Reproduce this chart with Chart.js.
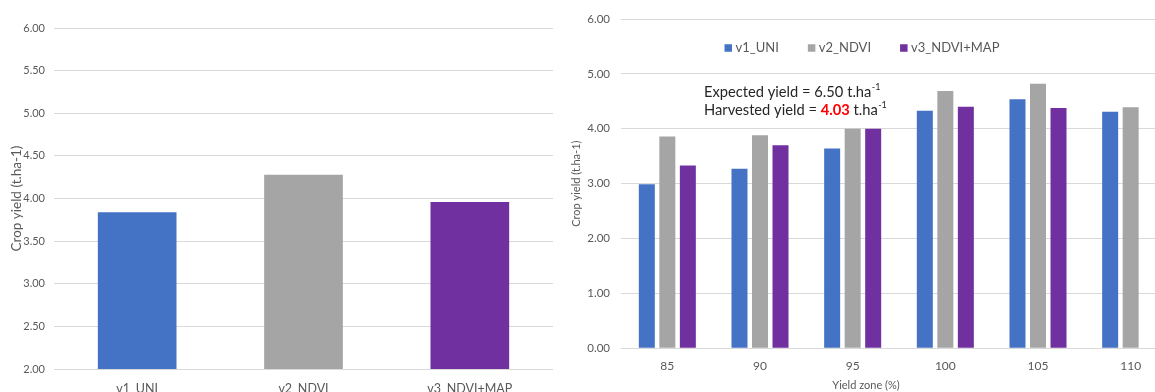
<!DOCTYPE html>
<html>
<head>
<meta charset="utf-8">
<title>Crop yield by treatment</title>
<script src="https://cdn.jsdelivr.net/npm/chart.js@4.4.1/dist/chart.umd.min.js"></script>
<style>
  html, body { margin: 0; padding: 0; width: 1155px; height: 392px; overflow: hidden; background: #fff; }
  #overall { position: absolute; left: 0; top: 0; }
  #zones { position: absolute; left: 555px; top: 0; }
</style>
</head>
<body>
<canvas id="overall" width="555" height="392"></canvas>
<canvas id="zones" width="622" height="392"></canvas>
<script>
// treatments and their mean yield over the whole field
const treatments = ["v1_UNI", "v2_NDVI", "v3_NDVI+MAP"]
const treatmentColors = ["#4472C4", "#A5A5A5", "#7030A0"]
const overallYield = [3.84, 4.28, 3.96]

// yield per yield zone
const yieldZones = ["85", "90", "95", "100", "105", "110"]
const zoneUni = [2.99, 3.27, 3.64, 4.33, 4.54, 4.31]
const zoneNdvi = [3.86, 3.88, 4.00, 4.69, 4.82, 4.39]
const zoneNdviMap = [3.33, 3.70, 4.00, 4.40, 4.38, null]

const expectedYield = "6.50"
const harvestedYield = "4.03"

const textGray = "#595959"
const gridGray = "#D9D9D9"

Chart.defaults.font.family = "Lato"
Chart.defaults.color = textGray

const yTitle = "Crop yield (t.ha-1)"

// --- left: mean yield per treatment ---
new Chart(document.querySelector("#overall"), {
  type: "bar",
  data: {
    labels: treatments,
    datasets: [{
      data: overallYield,
      backgroundColor: treatmentColors,
      categoryPercentage: 1,
      barPercentage: 0.473,
    }],
  },
  options: {
    responsive: false,
    animation: false,
    layout: { padding: { top: 28, right: 2, bottom: 0, left: 0 } },
    plugins: { legend: { display: false }, tooltip: { enabled: false } },
    scales: {
      x: {
        grid: { display: false },
        border: { display: false },
        ticks: { font: { size: 12.5 }, padding: 4.5, maxRotation: 0 },
        afterFit: (scale) => { scale.height = 23 },
      },
      y: {
        min: 2,
        max: 6,
        ticks: { stepSize: 0.5, padding: 9, font: { size: 11 }, callback: (v) => v.toFixed(2) },
        grid: { color: gridGray, drawTicks: false },
        border: { display: false },
        title: { display: true, text: yTitle, font: { size: 13.5 }, padding: { top: 9, bottom: 0 } },
        afterFit: (scale) => { scale.width = 54 },
      },
    },
  },
})

// legend drawn inside the plot, centred on the canvas
const insideLegend = {
  id: "insideLegend",
  afterDraw(chart) {
    const ctx = chart.ctx
    const y = chart.chartArea.top + 29
    const box = 7.5
    const gap = 29
    ctx.save()
    ctx.font = "13px Lato"
    ctx.textBaseline = "middle"
    const items = chart.data.datasets.map((ds) => ({ ds, w: box + 3.5 + ctx.measureText(ds.label).width }))
    const total = items.reduce((s, it) => s + it.w, 0) + gap * (items.length - 1)
    let x = chart.width / 2 - total / 2 - 4
    items.forEach((it) => {
      ctx.fillStyle = it.ds.backgroundColor
      ctx.fillRect(x, y - box / 2, box, box)
      ctx.fillStyle = textGray
      ctx.fillText(it.ds.label, x + box + 3.5, y)
      x += it.w + gap
    })
    ctx.restore()
  },
}

// expected / harvested yield note
const yieldNote = {
  id: "yieldNote",
  afterDraw(chart) {
    const ctx = chart.ctx
    const x0 = chart.chartArea.left + 83
    const lines = [
      { y: chart.chartArea.top + 73, parts: [["Expected yield = " + expectedYield + " t.ha", "#262626", ""]] },
      { y: chart.chartArea.top + 91, parts: [["Harvested yield = ", "#262626", ""], [harvestedYield, "#FF0000", "bold "], [" t.ha", "#262626", ""]] },
    ]
    ctx.save()
    ctx.textBaseline = "middle"
    lines.forEach((line) => {
      let x = x0
      line.parts.forEach(([txt, color, weight]) => {
        ctx.font = weight + "14.7px Lato"
        ctx.fillStyle = color
        ctx.fillText(txt, x, line.y)
        x += ctx.measureText(txt).width
      })
      ctx.font = "9px Lato"
      ctx.fillStyle = "#262626"
      ctx.fillText("-1", x + 0.5, line.y - 5)
    })
    ctx.restore()
  },
}

// --- right: yield per yield zone ---
new Chart(document.querySelector("#zones"), {
  type: "bar",
  data: {
    labels: yieldZones,
    datasets: [
      { label: treatments[0], data: zoneUni, backgroundColor: treatmentColors[0] },
      { label: treatments[1], data: zoneNdvi, backgroundColor: treatmentColors[1] },
      { label: treatments[2], data: zoneNdviMap, backgroundColor: treatmentColors[2] },
    ],
  },
  options: {
    responsive: false,
    animation: false,
    datasets: { bar: { categoryPercentage: 0.664, barPercentage: 0.78 } },
    layout: { padding: { top: 19, right: 0, bottom: 0, left: 0 } },
    plugins: {
      legend: { display: false },
      tooltip: { enabled: false },
      title: {
        display: true,
        position: "bottom",
        text: "Yield zone (%)",
        color: textGray,
        font: { size: 11, weight: "normal" },
        padding: { top: 4, bottom: 0 },
      },
    },
    scales: {
      x: {
        grid: { display: false },
        border: { display: false },
        ticks: { font: { size: 12 }, padding: 2.5, maxRotation: 0 },
        afterFit: (scale) => { scale.height = 26.5 },
      },
      y: {
        min: 0,
        max: 6,
        ticks: { stepSize: 1, padding: 11, font: { size: 11.5 }, callback: (v) => v.toFixed(2) },
        grid: { color: gridGray, drawTicks: false },
        border: { display: false },
        title: { display: true, text: yTitle, font: { size: 11 }, padding: { top: 15, bottom: 0 } },
        afterFit: (scale) => { scale.width = 66 },
      },
    },
  },
  plugins: [insideLegend, yieldNote],
})
</script>
</body>
</html>
